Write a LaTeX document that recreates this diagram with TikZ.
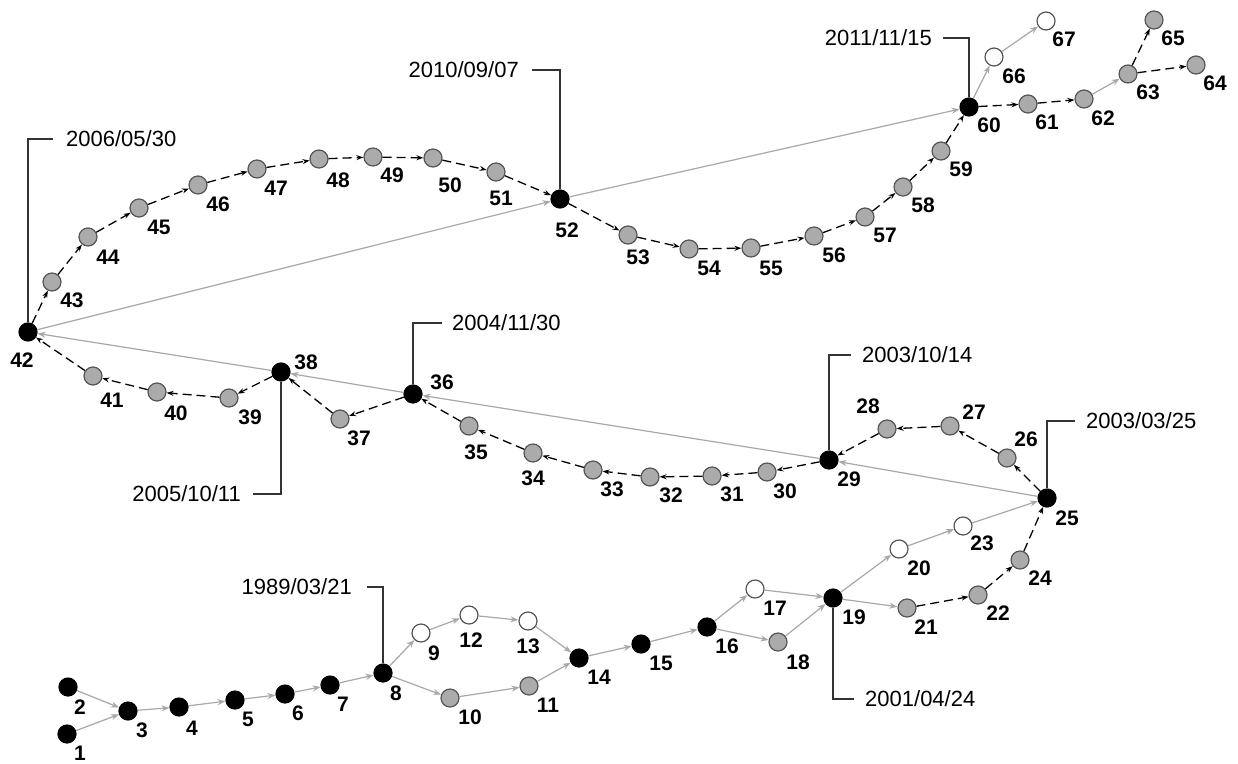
\documentclass[tikz,border=0pt]{standalone}
\usepackage{fontspec}
\setmainfont{Liberation Sans}
\usetikzlibrary{arrows.meta,calc}
\definecolor{edgegray}{HTML}{A8A8A8}
\definecolor{nodegray}{HTML}{ABABAB}
\definecolor{rimgray}{HTML}{555555}
\definecolor{leadercol}{HTML}{333333}
\tikzset{
  dot/.style={circle, minimum size=18pt, inner sep=0pt, line width=1.2pt},
  bk/.style={dot, fill=black, draw=black},
  gy/.style={dot, fill=nodegray, draw=rimgray},
  wh/.style={dot, fill=white, draw=rimgray},
  lbl/.style={font=\fontsize{21}{21}\selectfont\bfseries, inner sep=0pt, anchor=center},
  gl/.style={draw=edgegray, line width=1.2pt, -{Stealth[length=8pt,width=6pt]}},
  dl/.style={draw=black, line width=1.3pt, dash pattern=on 9pt off 5pt, -{Stealth[length=7pt,width=5pt]}},
  ld/.style={draw=leadercol, line width=2pt},
  dt/.style={font=\fontsize{22}{22}\selectfont, inner sep=0pt},
}
\newcommand\nd[6]{\node[#2] (n#1) at (#3,#4) {}; \node[lbl] (l#1) at ($(n#1)+(#5,#6)$) {#1};}
\begin{document}
\begin{tikzpicture}[x=1pt,y=-1pt]
\useasboundingbox[fill=white] (0,0) rectangle (1238,763);
% nodes
\nd{1}{bk}{67}{734}{13}{19}
\nd{2}{bk}{68}{687}{12}{20}
\nd{3}{bk}{128}{711}{14}{19}
\nd{4}{bk}{179}{707}{13}{21}
\nd{5}{bk}{235}{700}{13}{19}
\nd{6}{bk}{285}{694}{13}{19}
\nd{7}{bk}{330}{685}{13}{19}
\nd{8}{bk}{383}{673}{13}{20}
\nd{9}{wh}{421}{633}{13}{20}
\nd{10}{gy}{450}{698}{20}{19}
\nd{11}{gy}{529}{686}{19}{19}
\nd{12}{wh}{469}{615}{2}{25}
\nd{13}{wh}{528}{621}{0}{25}
\nd{14}{bk}{579}{658}{20}{19}
\nd{15}{bk}{641}{644}{20}{19}
\nd{16}{bk}{707}{627}{20}{19}
\nd{17}{wh}{755}{589}{20}{19}
\nd{18}{gy}{778}{642}{20}{20}
\nd{19}{bk}{833}{598}{21}{19}
\nd{20}{wh}{899}{549}{20}{19}
\nd{21}{gy}{907}{608}{19}{19}
\nd{22}{gy}{978}{595}{20}{18}
\nd{23}{wh}{963}{526}{19}{17}
\nd{24}{gy}{1020}{560}{20}{18}
\nd{25}{bk}{1047}{498}{20}{20}
\nd{26}{gy}{1007}{458}{19}{-19}
\nd{27}{gy}{950}{426}{24}{-14}
\nd{28}{gy}{887}{429}{-19}{-23}
\nd{29}{bk}{829}{460}{20}{19}
\nd{30}{gy}{767}{472}{18}{19}
\nd{31}{gy}{712}{476}{20}{18}
\nd{32}{gy}{650}{477}{21}{18}
\nd{33}{gy}{593}{470}{19}{19}
\nd{34}{gy}{533}{453}{0}{25}
\nd{35}{gy}{469}{426}{7}{26}
\nd{36}{bk}{413}{394}{29}{-12}
\nd{37}{gy}{340}{419}{19}{19}
\nd{38}{bk}{281}{372}{25}{-10}
\nd{39}{gy}{229}{398}{21}{19}
\nd{40}{gy}{157}{392}{19}{21}
\nd{41}{gy}{93}{376}{19}{24}
\nd{42}{bk}{28}{332}{-6}{28}
\nd{43}{gy}{52}{282}{20}{18}
\nd{44}{gy}{88}{237}{20}{20}
\nd{45}{gy}{139}{208}{20}{19}
\nd{46}{gy}{198}{185}{20}{19}
\nd{47}{gy}{257}{169}{19}{19}
\nd{48}{gy}{319}{159}{19}{21}
\nd{49}{gy}{373}{157}{19}{18}
\nd{50}{gy}{433}{158}{17}{27}
\nd{51}{gy}{496}{172}{5}{26}
\nd{52}{bk}{560}{199}{7}{31}
\nd{53}{gy}{628}{235}{10}{22}
\nd{54}{gy}{689}{249}{20}{19}
\nd{55}{gy}{751}{248}{20}{20}
\nd{56}{gy}{814}{236}{20}{19}
\nd{57}{gy}{865}{217}{20}{18}
\nd{58}{gy}{903}{187}{20}{18}
\nd{59}{gy}{941}{151}{20}{18}
\nd{60}{bk}{969}{107}{20}{18}
\nd{61}{gy}{1028}{104}{19}{18}
\nd{62}{gy}{1084}{99}{19}{19}
\nd{63}{gy}{1128}{74}{20}{18}
\nd{64}{gy}{1196}{65}{19}{18}
\nd{65}{gy}{1154}{20}{19}{18}
\nd{66}{wh}{994}{57}{20}{19}
\nd{67}{wh}{1046}{21}{18}{18}
% solid gray edges
\foreach \a/\b in {1/3,2/3,3/4,4/5,5/6,6/7,7/8,8/9,9/12,12/13,13/14,8/10,10/11,11/14,14/15,15/16,16/17,17/19,16/18,18/19,19/20,20/23,23/25,19/21,25/29,29/36,36/38,38/42,42/52,52/60,60/66,66/67,62/63}
  \draw[gl] (n\a) -- (n\b);
% dashed edges
\foreach \a/\b in {21/22,22/24,24/25,25/26,26/27,27/28,28/29,29/30,30/31,31/32,32/33,33/34,34/35,35/36,36/37,37/38,38/39,39/40,40/41,41/42,42/43,43/44,44/45,45/46,46/47,47/48,48/49,49/50,50/51,51/52,52/53,53/54,54/55,55/56,56/57,57/58,58/59,59/60,60/61,61/62,63/64,63/65}
  \draw[dl] (n\a) -- (n\b);
% date labels
\node[dt, anchor=east] (d8) at (352,587) {1989/03/21};
\draw[ld] (n8.north) |- ($(d8.east)+(15,0)$);
\node[dt, anchor=west] (d19) at (865,699) {2001/04/24};
\draw[ld] (n19.south) |- ($(d19.west)+(-11,0)$);
\node[dt, anchor=west] (d25) at (1086,421) {2003/03/25};
\draw[ld] (n25.north) |- ($(d25.west)+(-11,0)$);
\node[dt, anchor=west] (d29) at (862,355) {2003/10/14};
\draw[ld] (n29.north) |- ($(d29.west)+(-11,0)$);
\node[dt, anchor=west] (d36) at (452,323) {2004/11/30};
\draw[ld] (n36.north) |- ($(d36.west)+(-10,0)$);
\node[dt, anchor=east] (d38) at (241,494) {2005/10/11};
\draw[ld] (n38.south) |- ($(d38.east)+(12,0)$);
\node[dt, anchor=west] (d42) at (66,139) {2006/05/30};
\draw[ld] (n42.north) |- ($(d42.west)+(-13,0)$);
\node[dt, anchor=east] (d52) at (519,70) {2010/09/07};
\draw[ld] (n52.north) |- ($(d52.east)+(13,0)$);
\node[dt, anchor=east] (d60) at (932,38) {2011/11/15};
\draw[ld] (n60.north) |- ($(d60.east)+(11,0)$);
\end{tikzpicture}
\end{document}
